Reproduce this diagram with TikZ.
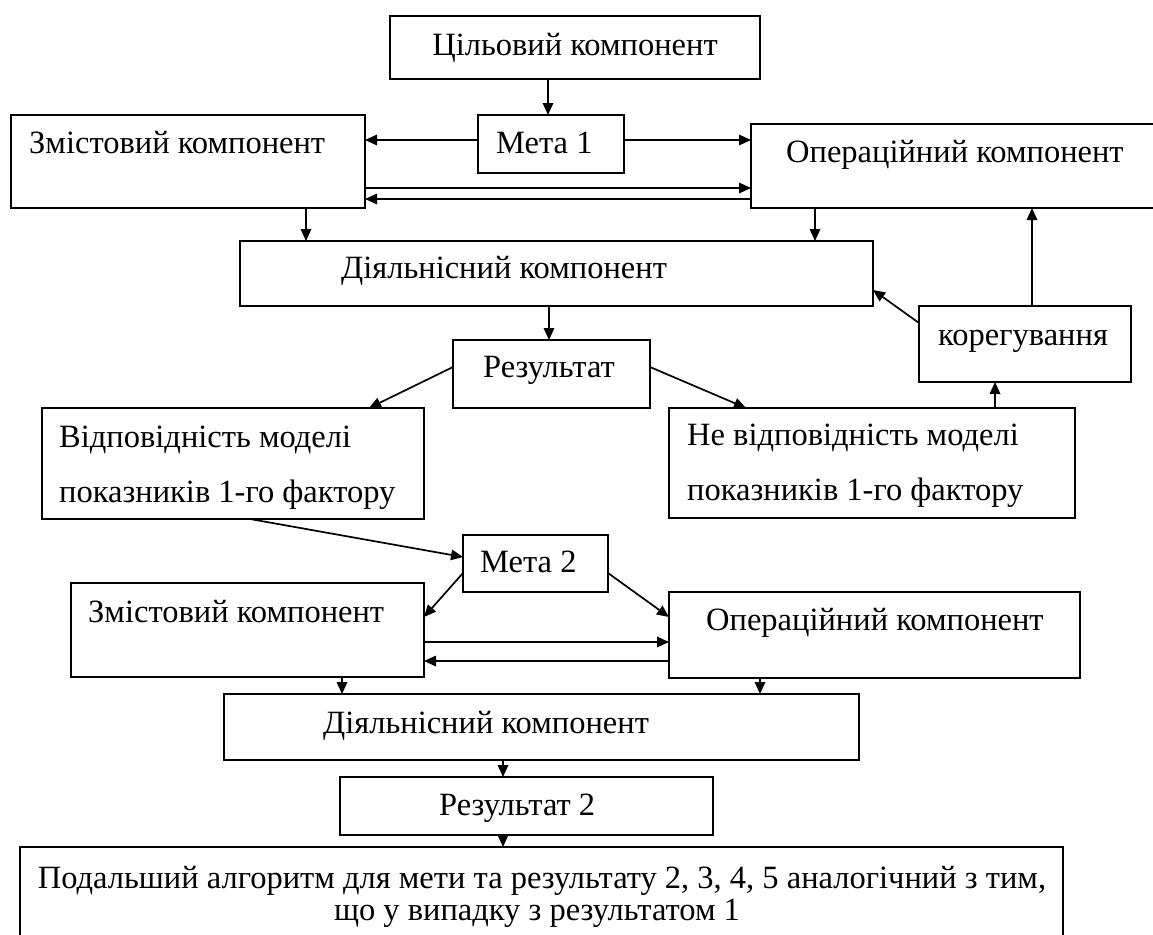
\documentclass[tikz,border=0pt]{standalone}
\usepackage{fontspec}
\setmainfont{Liberation Serif}
\usetikzlibrary{arrows.meta,calc}
\begin{document}
\begin{tikzpicture}[x=1pt,y=-1pt,
  box/.style={draw,line width=2pt,anchor=north west,inner sep=0pt,outer sep=0pt},
  txt/.style={inner sep=0pt,anchor=base west,font=\fontsize{32.5}{39}\selectfont},
  txtc/.style={inner sep=0pt,anchor=base,font=\fontsize{32.5}{39}\selectfont},
  arr/.style={line width=1.7pt,-{Triangle[length=12pt,width=10.5pt]}}]
\useasboundingbox (0,0) rectangle (1153,934);
\fill[white] (0,0) rectangle (1153,934);
% boxes
\node[box,minimum width=370pt,minimum height=63pt] (c0) at (390,16) {};
\node[box,minimum width=146pt,minimum height=58pt] (m1) at (478,115) {};
\node[box,minimum width=354pt,minimum height=93pt] (z1) at (11,115) {};
\node[box,minimum width=420pt,minimum height=84pt] (o1) at (751,124) {};
\node[box,minimum width=633pt,minimum height=65pt] (d1) at (240,241) {};
\node[box,minimum width=212pt,minimum height=76pt] (k) at (919,306) {};
\node[box,minimum width=197pt,minimum height=68pt] (r1) at (453,340) {};
\node[box,minimum width=382pt,minimum height=111pt] (v1) at (42,408) {};
\node[box,minimum width=406pt,minimum height=110pt] (nv) at (669,408) {};
\node[box,minimum width=145pt,minimum height=57pt] (m2) at (463,535) {};
\node[box,minimum width=353pt,minimum height=94pt] (z2) at (71,583) {};
\node[box,minimum width=411pt,minimum height=86pt] (o2) at (669,592) {};
\node[box,minimum width=635pt,minimum height=66pt] (d2) at (224,694) {};
\node[box,minimum width=373pt,minimum height=58pt] (r2) at (340,777) {};
\node[box,minimum width=1043pt,minimum height=120pt] (f) at (20,847) {};
% texts
\node[txtc] (tc0) at (575,56) {Цільовий компонент};
\node[txt] (tm1) at (496,153) {Мета 1};
\node[txt] (tz1) at (29,153) {Змістовий компонент};
\node[txt] (to1) at (786,162) {Операційний компонент};
\node[txt] (td1) at (341,278) {Діяльнісний компонент};
\node[txt] (tk) at (938,345) {корегування};
\node[txt] (tr1) at (483,377) {Результат};
\node[txt] (tv1a) at (59,447) {Відповідність моделі};
\node[txt] (tv1b) at (59,502) {показників 1-го фактору};
\node[txt] (tnva) at (687,445) {Не відповідність моделі};
\node[txt] (tnvb) at (687,500) {показників 1-го фактору};
\node[txt] (tm2) at (480,572) {Мета 2};
\node[txt] (tz2) at (88,622) {Змістовий компонент};
\node[txt] (to2) at (706,630) {Операційний компонент};
\node[txt] (td2) at (323,733) {Діяльнісний компонент};
\node[txt] (tr2) at (439,815) {Результат 2};
\node[txtc] (tfa) at (542,888) {Подальший алгоритм для мети та результату 2, 3, 4, 5 аналогічний з тим,};
\node[txtc] (tfb) at (537,920) {що у випадку з результатом 1};
% helper coordinates
\coordinate (X548) at (548,0);
\coordinate (Y140) at (0,140);
\coordinate (Y188) at (0,188);
\coordinate (Y199) at (0,199);
\coordinate (X306) at (306,0);
\coordinate (X815) at (815,0);
\coordinate (X1032) at (1032,0);
\coordinate (X995) at (995,0);
\coordinate (X549) at (549,0);
\coordinate (Y323) at (0,323);
\coordinate (Y290) at (0,290);
\coordinate (Y367) at (0,367);
\coordinate (X369) at (369,0);
\coordinate (X746) at (746,0);
\coordinate (X250) at (250,0);
\coordinate (Y557) at (0,557);
\coordinate (Y573) at (0,573);
\coordinate (Y617) at (0,617);
\coordinate (Y642) at (0,642);
\coordinate (Y661) at (0,661);
\coordinate (X342) at (342,0);
\coordinate (X760) at (760,0);
\coordinate (X503) at (503,0);
% connectors
\draw[arr] (c0.south -| X548) -- (m1.north -| X548);
\draw[arr] (m1.west |- Y140) -- (z1.east |- Y140);
\draw[arr] (m1.east |- Y140) -- (o1.west |- Y140);
\draw[arr] (z1.east |- Y188) -- (o1.west |- Y188);
\draw[arr] (o1.west |- Y199) -- (z1.east |- Y199);
\draw[arr] (z1.south -| X306) -- (d1.north -| X306);
\draw[arr] (o1.south -| X815) -- (d1.north -| X815);
\draw[arr] (k.north -| X1032) -- (o1.south -| X1032);
\draw[arr] (k.west |- Y323) -- (d1.east |- Y290);
\draw[arr] (d1.south -| X549) -- (r1.north -| X549);
\draw[arr] (r1.west |- Y367) -- (v1.north -| X369);
\draw[arr] (r1.east |- Y367) -- (nv.north -| X746);
\draw[arr] (nv.north -| X995) -- (k.south -| X995);
\draw[arr] (v1.south -| X250) -- (m2.west |- Y557);
\draw[arr] (m2.west |- Y573) -- (z2.east |- Y617);
\draw[arr] (m2.east |- Y573) -- (o2.west |- Y617);
\draw[arr] (z2.east |- Y642) -- (o2.west |- Y642);
\draw[arr] (o2.west |- Y661) -- (z2.east |- Y661);
\draw[arr] (z2.south -| X342) -- (d2.north -| X342);
\draw[arr] (o2.south -| X760) -- (d2.north -| X760);
\draw[arr] (d2.south -| X503) -- (r2.north -| X503);
\draw[arr] (r2.south -| X503) -- (f.north -| X503);
\end{tikzpicture}
\end{document}
